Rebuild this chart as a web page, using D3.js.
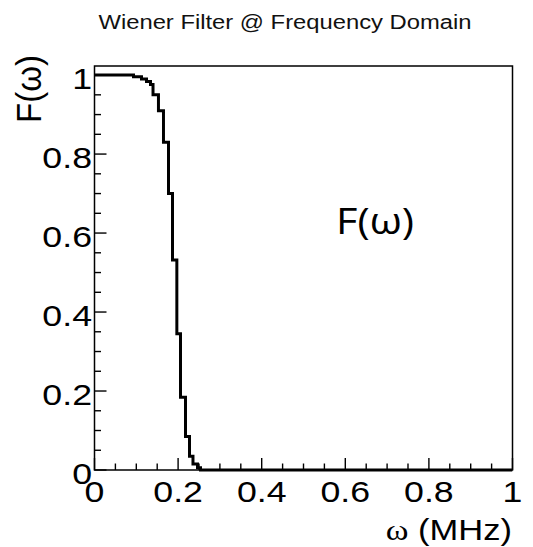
<!DOCTYPE html>
<html>
<head>
<meta charset="utf-8">
<script src="https://cdn.jsdelivr.net/npm/d3@7"></script>
<style>
  html, body { margin: 0; padding: 0; background: #fff; }
  svg { display: block; }
</style>
</head>
<body>
<div id="chart"></div>
<script>
// histogram bin edges (MHz) and filter response per bin
var binEdges = [0, 0.0933, 0.1124, 0.1244, 0.134, 0.140, 0.153, 0.165, 0.177,
  0.1866, 0.197, 0.2057, 0.2177, 0.2273, 0.2356, 0.2464, 0.2536, 1.0];
var binValues = [1.0, 0.996, 0.99, 0.984, 0.976, 0.95, 0.91, 0.83, 0.70,
  0.532, 0.345, 0.184, 0.085, 0.035, 0.015, 0.006, 0];

var xTickValues = [0, 0.2, 0.4, 0.6, 0.8, 1];
var yTickValues = [0, 0.2, 0.4, 0.6, 0.8, 1];
var xTickLabels = ["0", "0.2", "0.4", "0.6", "0.8", "1"];
var yTickLabels = ["0", "0.2", "0.4", "0.6", "0.8", "1"];

var chartTitle = "Wiener Filter @ Frequency Domain";
var annotation = "F(\u03c9)";

var width = 533, height = 547;
var frame = { left: 94.5, right: 512.5, top: 66, bottom: 470 };
var stretch = 1.19; // picture is wider than the original font metrics
var sans = "'Liberation Sans', Arial, sans-serif";

var svg = d3.select("#chart").append("svg")
  .attr("width", width)
  .attr("height", height);

svg.append("rect")
  .attr("width", width)
  .attr("height", height)
  .attr("fill", "#fff");

var x = d3.scaleLinear().domain([0, 1]).range([frame.left, frame.right]);
var y = d3.scaleLinear().domain([0, 1.023]).range([frame.bottom, frame.top]);

function wideText(g, px, py, txt, size, anchor) {
  return g.append("text")
    .attr("transform", "translate(" + px + "," + py + ") scale(" + stretch + ",1)")
    .attr("text-anchor", anchor)
    .attr("font-family", sans)
    .attr("font-size", size)
    .attr("fill", "#000")
    .text(txt);
}

// title
wideText(svg, 285, 29, chartTitle, 20, "middle").attr("fill", "#111");

// ticks (inside the frame, major every 0.2, minor every 0.05)
var minorTicks = d3.range(0, 1.0001, 0.05);
var isMajor = function (v) { return Math.abs(v * 5 - Math.round(v * 5)) < 1e-6; };

var ticks = svg.append("g")
  .attr("stroke", "#000")
  .attr("stroke-width", 1.4);

ticks.selectAll(".xtick")
  .data(minorTicks)
  .enter().append("line")
  .attr("class", "xtick")
  .attr("x1", function (d) { return x(d); })
  .attr("x2", function (d) { return x(d); })
  .attr("y1", frame.bottom)
  .attr("y2", function (d) { return frame.bottom - (isMajor(d) ? 12 : 6.5); });

ticks.selectAll(".ytick")
  .data(minorTicks)
  .enter().append("line")
  .attr("class", "ytick")
  .attr("y1", function (d) { return y(d); })
  .attr("y2", function (d) { return y(d); })
  .attr("x1", frame.left)
  .attr("x2", function (d) { return frame.left + (isMajor(d) ? 12 : 6.5); });

// histogram outline
svg.append("clipPath").attr("id", "frame-clip")
  .append("rect")
  .attr("x", frame.left)
  .attr("y", frame.top)
  .attr("width", frame.right - frame.left)
  .attr("height", frame.bottom - frame.top + 2);

var pts = [];
binValues.forEach(function (v, i) {
  pts.push([binEdges[i], v]);
  pts.push([binEdges[i + 1], v]);
});

var line = d3.line()
  .x(function (d) { return x(d[0]); })
  .y(function (d) { return y(d[1]); });

svg.append("path")
  .datum(pts)
  .attr("clip-path", "url(#frame-clip)")
  .attr("d", line)
  .attr("fill", "none")
  .attr("stroke", "#000")
  .attr("stroke-width", 3)
  .attr("stroke-linejoin", "miter");

// frame
svg.append("rect")
  .attr("x", frame.left)
  .attr("y", frame.top)
  .attr("width", frame.right - frame.left)
  .attr("height", frame.bottom - frame.top)
  .attr("fill", "none")
  .attr("stroke", "#000")
  .attr("stroke-width", 1.5);

// tick labels
var xl = svg.append("g");
xTickValues.forEach(function (v, i) {
  wideText(xl, x(v), 502, xTickLabels[i], 30, "middle");
});

var yl = svg.append("g");
yTickValues.forEach(function (v, i) {
  wideText(yl, 92, y(v) + 14, yTickLabels[i], 30, "end");
});

// axis titles
var xt = wideText(svg, 512, 540, "", 29, "end");
xt.append("tspan")
  .attr("font-family", "'Liberation Serif', 'Times New Roman', serif")
  .text("\u03c9");
xt.append("tspan").text(" (MHz)");

svg.append("text")
  .attr("transform", "translate(41,55) scale(" + stretch + ",1) rotate(-90)")
  .attr("text-anchor", "end")
  .attr("font-family", sans)
  .attr("font-size", 30)
  .attr("textLength", 68)
  .attr("lengthAdjust", "spacingAndGlyphs")
  .attr("fill", "#000")
  .text("F(\u03c9)");

// annotation inside the plot
svg.append("text")
  .attr("x", 336)
  .attr("y", 234)
  .attr("font-family", "'Open Sans', 'Noto Sans', sans-serif")
  .attr("font-size", 36)
  .attr("textLength", 78)
  .attr("lengthAdjust", "spacingAndGlyphs")
  .attr("fill", "#000")
  .text(annotation);
</script>
</body>
</html>
